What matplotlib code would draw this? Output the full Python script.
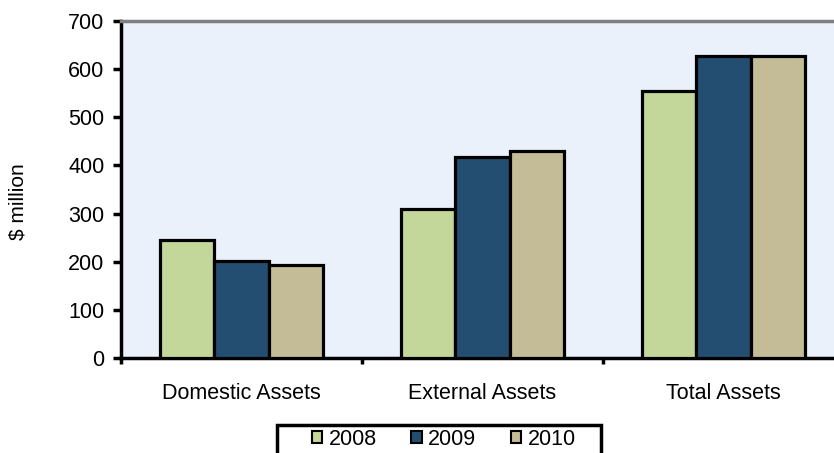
import matplotlib.pyplot as plt
from matplotlib.patches import Rectangle
import numpy as np

plt.rcParams['font.family'] = ['Liberation Sans', 'DejaVu Sans']

categories = ['Domestic Assets', 'External Assets', 'Total Assets']
years = ['2008', '2009', '2010']
v2008 = [245, 310, 555]
v2009 = [202, 418, 627]
v2010 = [193, 430, 627]
yticks = [0, 100, 200, 300, 400, 500, 600, 700]

colors = ['#C4D79B', '#234E72', '#C4BC97']

fig = plt.figure(figsize=(8.34, 4.53), dpi=100)
ax = fig.add_axes([121/834, 95/453, (844-121)/834, (358-21)/453])
ax.set_facecolor('#EAF1FA')

x = np.arange(len(categories))
w = 0.226
for i, (vals, col, yr) in enumerate(zip([v2008, v2009, v2010], colors, years)):
    ax.bar(x + (i-1)*w, vals, w, color=col, edgecolor='black', linewidth=2.3, label=yr, zorder=3)

ax.set_xlim(-0.5, 2.5)
ax.set_ylim(0, 700)
ax.set_yticks(yticks)
ax.tick_params(axis='y', labelsize=15.5, length=6, width=2.5, direction='out', pad=6)

ax.set_xticks(x)
ax.set_xticklabels(categories)
ax.tick_params(axis='x', which='major', length=0, labelsize=15.5, pad=18)
ax.set_xticks([-0.5, 0.5, 1.5, 2.5], minor=True)
ax.tick_params(axis='x', which='minor', length=4, width=2.5, direction='out')

ax.spines['left'].set_linewidth(2.5)
ax.spines['bottom'].set_linewidth(2.5)
ax.spines['top'].set_color('#808080')
ax.spines['top'].set_linewidth(2.5)
ax.spines['right'].set_visible(False)

ax.set_ylabel('$ million', fontsize=15)
ax.yaxis.set_label_coords(-0.13, 0.463)

# legend frame (runs off the bottom of the image like the original)
fig.patches.append(Rectangle((277/834, -0.05), (601-277)/834, 0.05 + 1-425/453,
                             transform=fig.transFigure, fill=False,
                             edgecolor='black', linewidth=2.5))

leg = fig.legend(loc='upper left', bbox_to_anchor=(312/834, 1-429/453), ncol=3,
                 fontsize=15.5, frameon=False,
                 handlelength=0.48, handleheight=0.48, handletextpad=0.3,
                 columnspacing=1.6, borderpad=0, borderaxespad=0)
for h in leg.legend_handles:
    h.set_linewidth(1.5)

fig.savefig('out.png', dpi=100)
